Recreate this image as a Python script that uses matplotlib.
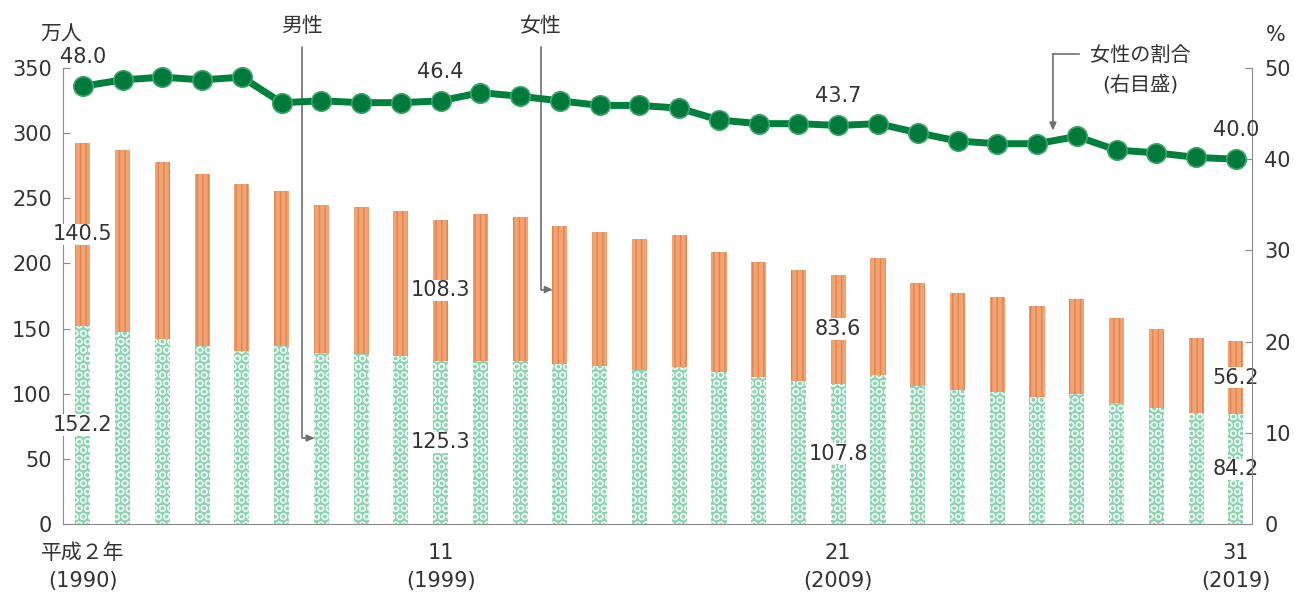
import matplotlib
matplotlib.use('Agg')
import matplotlib.pyplot as plt
import numpy as np

plt.rcParams['font.family'] = ['DejaVu Sans', 'Noto Sans CJK JP']
plt.rcParams['hatch.linewidth'] = 1.0

years = list(range(1990, 2020))
male = [152.2, 147.2, 141.8, 137.0, 133.1, 136.5, 131.3, 130.7, 129.1, 125.3,
        125.4, 125.3, 122.7, 121.2, 118.5, 120.8, 116.4, 112.8, 109.4, 107.8,
        114.4, 105.6, 102.7, 101.4, 97.4, 99.5, 93.2, 88.9, 85.5, 84.2]
female = [140.5, 139.8, 136.2, 132.0, 127.9, 119.0, 113.7, 112.3, 110.9, 108.3,
          112.6, 110.7, 106.3, 102.8, 100.5, 101.2, 92.6, 88.2, 85.6, 83.6,
          89.6, 79.4, 74.3, 72.6, 69.6, 73.5, 64.8, 61.1, 57.5, 56.2]
female_share = [48.0, 48.7, 49.0, 48.7, 49.0, 46.2, 46.4, 46.2, 46.2, 46.4,
                47.3, 46.9, 46.4, 45.9, 45.9, 45.6, 44.3, 43.9, 43.9, 43.7,
                43.9, 42.9, 42.0, 41.7, 41.7, 42.5, 41.0, 40.7, 40.2, 40.0]
labeled = [0, 9, 19, 29]
xtick_labels = ['平成２年\n(1990)', '11\n(1999)', '21\n(2009)', '31\n(2019)']

text_c = '#333333'
spine_c = '#8a8a8a'

fig = plt.figure(figsize=(12.95, 5.94), dpi=100)
ax = fig.add_axes([0.0486, 0.1178, 0.918, 0.7677])
x = np.arange(len(years))
w = 0.38

ax.bar(x, male, w, color='#8cd3b1', edgecolor='#e8f7ef', hatch='OO', linewidth=0, zorder=2)
ax.bar(x, female, w, bottom=male, color='#f1a372', edgecolor='#e2834e', hatch='|||',
       linewidth=0, zorder=2)

ax.set_xlim(-0.5, 29.4)
ax.set_ylim(0, 350)
ax.set_yticks(range(0, 351, 50))
ax.set_xticks([x[i] for i in labeled])
ax.set_xticklabels(xtick_labels, linespacing=1.45)
ax.tick_params(axis='x', length=0, pad=14, labelsize=15, labelcolor=text_c)
ax.tick_params(axis='y', direction='in', length=5, color=spine_c, pad=8,
               labelsize=15, labelcolor=text_c)
for s in ['top', 'right']:
    ax.spines[s].set_visible(False)
for s in ['left', 'bottom']:
    ax.spines[s].set_color(spine_c)

# value labels in the middle of each segment
for i in labeled:
    ax.text(x[i], male[i] / 2, f'{male[i]:.1f}', ha='center', va='center', fontsize=15,
            color=text_c, zorder=4, bbox=dict(fc='white', ec='none', pad=0.5))
    ax.text(x[i], male[i] + female[i] / 2, f'{female[i]:.1f}', ha='center', va='center',
            fontsize=15, color=text_c, zorder=4, bbox=dict(fc='white', ec='none', pad=0.5))

ax2 = ax.twinx()
ax2.plot(x, female_share, color='#00803d', lw=5, marker='o', ms=14,
         mfc='#007a3b', mec='#3aa668', mew=1.2, zorder=3, clip_on=False)
ax2.set_ylim(0, 50)
ax2.set_yticks(range(0, 51, 10))
ax2.tick_params(axis='y', direction='in', length=5, color=spine_c, pad=9,
                labelsize=15, labelcolor=text_c)
for s in ['top', 'left', 'bottom']:
    ax2.spines[s].set_visible(False)
ax2.spines['right'].set_color(spine_c)

for i in labeled:
    ax2.annotate(f'{female_share[i]:.1f}', (x[i], female_share[i]), xytext=(0, 21),
                 textcoords='offset points', ha='center', va='center', fontsize=15,
                 color=text_c)

# units
ax.text(-0.55, 376, '万人', ha='center', va='center', fontsize=15, color=text_c, clip_on=False)
ax.text(30.0, 375, '%', ha='center', va='center', fontsize=15, color=text_c, clip_on=False)

# callouts
lead = dict(arrowstyle='-|>,head_length=0.45,head_width=0.2', color='#6f6f6f', lw=1.2,
            shrinkA=0, shrinkB=0, connectionstyle='angle,angleA=90,angleB=0,rad=0')
ax.text(5.51, 382, '男性', ha='center', va='center', fontsize=15, color=text_c)
ax.annotate('', xy=(5.83, 66), xytext=(5.51, 366), arrowprops=lead, annotation_clip=False)
ax.text(11.52, 382, '女性', ha='center', va='center', fontsize=15, color=text_c)
ax.annotate('', xy=(11.82, 180), xytext=(11.52, 366), arrowprops=lead, annotation_clip=False)

ax.text(26.6, 359.5, '女性の割合', ha='center', va='center', fontsize=14.5, color=text_c)
ax.text(26.6, 337, '(右目盛)', ha='center', va='center', fontsize=14.5, color=text_c)
ax.plot([25.05, 24.4], [361, 361], color='#6f6f6f', lw=1.2, clip_on=False)
ax.annotate('', xy=(24.4, 302), xytext=(24.4, 361),
            arrowprops=dict(arrowstyle='-|>,head_length=0.45,head_width=0.2',
                            color='#6f6f6f', lw=1.2, shrinkA=0, shrinkB=0),
            annotation_clip=False)

fig.savefig('out.png', dpi=100, facecolor='white')
